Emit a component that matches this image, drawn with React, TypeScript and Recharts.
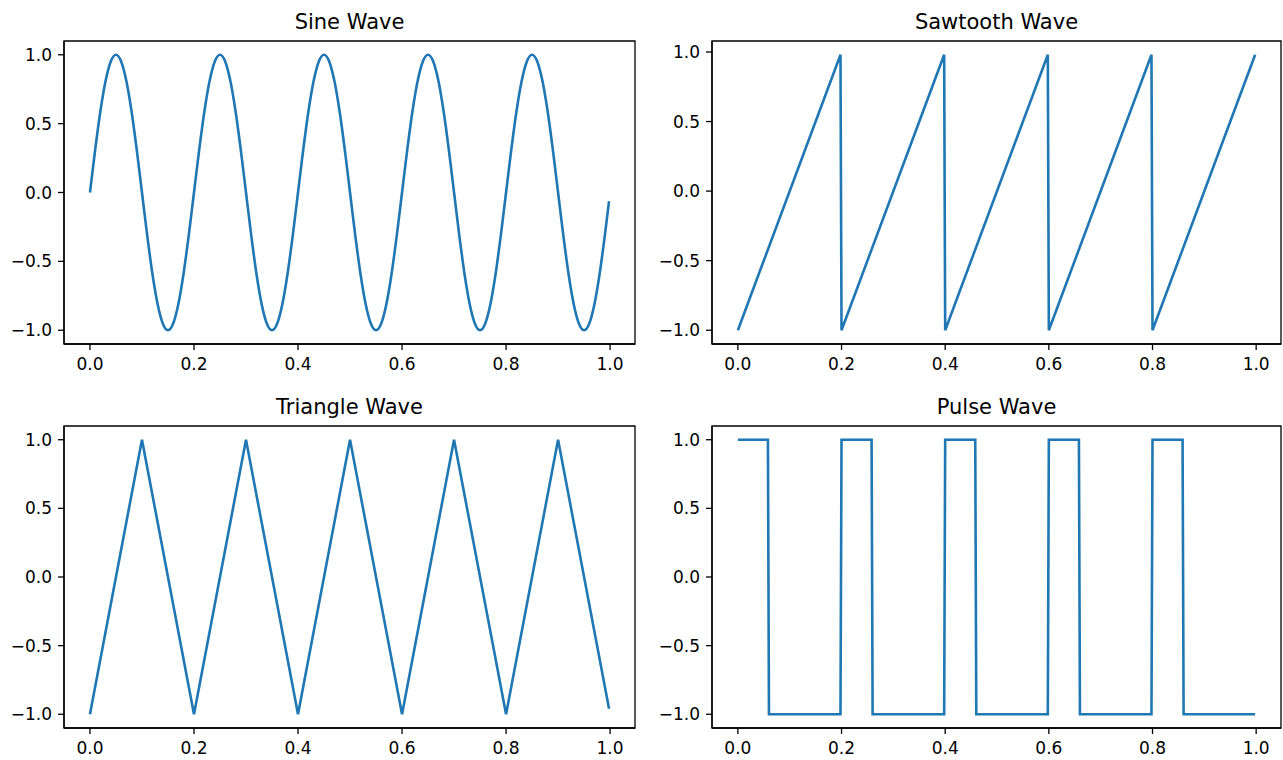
import React from "react";
import { LineChart, Line, XAxis, YAxis, ReferenceArea } from "recharts";

// Sample times and values for each waveform (5 cycles over one second)
const sineT = [
  0, 0.01, 0.02, 0.03, 0.04, 0.05, 0.06, 0.07, 0.08, 0.09,
  0.1, 0.11, 0.12, 0.13, 0.14, 0.15, 0.16, 0.17, 0.18, 0.19,
  0.2, 0.21, 0.22, 0.23, 0.24, 0.25, 0.26, 0.27, 0.28, 0.29,
  0.3, 0.31, 0.32, 0.33, 0.34, 0.35, 0.36, 0.37, 0.38, 0.39,
  0.4, 0.41, 0.42, 0.43, 0.44, 0.45, 0.46, 0.47, 0.48, 0.49,
  0.5, 0.51, 0.52, 0.53, 0.54, 0.55, 0.56, 0.57, 0.58, 0.59,
  0.6, 0.61, 0.62, 0.63, 0.64, 0.65, 0.66, 0.67, 0.68, 0.69,
  0.7, 0.71, 0.72, 0.73, 0.74, 0.75, 0.76, 0.77, 0.78, 0.79,
  0.8, 0.81, 0.82, 0.83, 0.84, 0.85, 0.86, 0.87, 0.88, 0.89,
  0.9, 0.91, 0.92, 0.93, 0.94, 0.95, 0.96, 0.97, 0.98, 0.99,
  0.998,
];
const sineV = [
  0, 0.309, 0.588, 0.809, 0.951, 1, 0.951, 0.809, 0.588, 0.309,
  0, -0.309, -0.588, -0.809, -0.951, -1, -0.951, -0.809, -0.588, -0.309,
  0, 0.309, 0.588, 0.809, 0.951, 1, 0.951, 0.809, 0.588, 0.309,
  0, -0.309, -0.588, -0.809, -0.951, -1, -0.951, -0.809, -0.588, -0.309,
  0, 0.309, 0.588, 0.809, 0.951, 1, 0.951, 0.809, 0.588, 0.309,
  0, -0.309, -0.588, -0.809, -0.951, -1, -0.951, -0.809, -0.588, -0.309,
  0, 0.309, 0.588, 0.809, 0.951, 1, 0.951, 0.809, 0.588, 0.309,
  0, -0.309, -0.588, -0.809, -0.951, -1, -0.951, -0.809, -0.588, -0.309,
  0, 0.309, 0.588, 0.809, 0.951, 1, 0.951, 0.809, 0.588, 0.309,
  0, -0.309, -0.588, -0.809, -0.951, -1, -0.951, -0.809, -0.588, -0.309,
  -0.063,
];

const sawT = [0, 0.198, 0.2, 0.398, 0.4, 0.598, 0.6, 0.798, 0.8, 0.998];
const sawV = [-1, 0.98, -1, 0.98, -1, 0.98, -1, 0.98, -1, 0.98];

const triT = [0, 0.1, 0.2, 0.3, 0.4, 0.5, 0.6, 0.7, 0.8, 0.9, 0.998];
const triV = [-1, 1, -1, 1, -1, 1, -1, 1, -1, 1, -0.96];

const pulseT = [
  0, 0.058, 0.06, 0.198, 0.2, 0.258, 0.26, 0.398, 0.4, 0.458,
  0.46, 0.598, 0.6, 0.658, 0.66, 0.798, 0.8, 0.858, 0.86, 0.998,
];
const pulseV = [
  1, 1, -1, -1, 1, 1, -1, -1, 1, 1,
  -1, -1, 1, 1, -1, -1, 1, 1, -1, -1,
];

const xTicks = [0, 0.2, 0.4, 0.6, 0.8, 1.0];
const yTicks = [-1, -0.5, 0, 0.5, 1];

const X_DOMAIN: [number, number] = [-0.0499, 1.0479];
const FULL_Y: [number, number] = [-1.1, 1.1];
const SAW_Y: [number, number] = [-1.099, 1.079];

const FONT = "'DejaVu Sans', sans-serif";
const LINE_COLOR = "#1f77b4";
const SPINE = "#000";

const fmt = (v: number) => (v < 0 ? "\u2212" + Math.abs(v).toFixed(1) : v.toFixed(1));

type Box = {
  left: number;
  top: number;
  plotW: number;
  plotH: number;
  xAxisH: number;
  marginRight: number;
};

function WavePanel({
  t,
  v,
  yDomain,
  box,
  curve,
}: {
  t: number[];
  v: number[];
  yDomain: [number, number];
  box: Box;
  curve: "monotone" | "linear";
}) {
  const data = t.map((x, i) => ({ t: x, v: v[i] }));
  const yAxisW = 64;
  const marginTop = 4;
  const width = yAxisW + box.plotW + box.marginRight;
  const height = marginTop + box.plotH + box.xAxisH;
  const tickStyle = { fill: "#000", fontSize: 17, fontFamily: FONT };
  return (
    <div style={{ position: "absolute", left: box.left, top: box.top - marginTop }}>
      <LineChart
        width={width}
        height={height}
        data={data}
        margin={{ top: marginTop, right: box.marginRight, bottom: 0, left: 0 }}
      >
        <XAxis
          dataKey="t"
          type="number"
          domain={X_DOMAIN}
          allowDataOverflow
          ticks={xTicks}
          interval={0}
          tickFormatter={fmt}
          height={box.xAxisH}
          tickSize={6}
          tickMargin={8}
          tick={tickStyle}
          axisLine={{ stroke: SPINE, strokeWidth: 1.3 }}
          tickLine={{ stroke: SPINE, strokeWidth: 1.3 }}
        />
        <YAxis
          type="number"
          domain={yDomain}
          allowDataOverflow
          ticks={yTicks}
          interval={0}
          tickFormatter={fmt}
          width={yAxisW}
          tickSize={6}
          tickMargin={6}
          tick={tickStyle}
          axisLine={{ stroke: SPINE, strokeWidth: 1.3 }}
          tickLine={{ stroke: SPINE, strokeWidth: 1.3 }}
        />
        <ReferenceArea
          x1={X_DOMAIN[0]}
          x2={X_DOMAIN[1]}
          y1={yDomain[0]}
          y2={yDomain[1]}
          fill="none"
          fillOpacity={0}
          stroke={SPINE}
          strokeWidth={1.3}
          ifOverflow="visible"
        />
        <Line
          type={curve}
          dataKey="v"
          stroke={LINE_COLOR}
          strokeWidth={2.6}
          dot={false}
          activeDot={false}
          isAnimationActive={false}
        />
      </LineChart>
    </div>
  );
}

const topRow = { top: 41, plotH: 303, xAxisH: 40 };
const bottomRow = { top: 426, plotH: 302, xAxisH: 30 };
const leftCol = { left: 0, plotW: 571, marginRight: 4 };
const rightCol = { left: 648, plotW: 569, marginRight: 2 };

const titles = [
  { text: "Sine Wave", x: 64 + 571 / 2, y: 28.5 },
  { text: "Sawtooth Wave", x: 712 + 569 / 2, y: 28.5 },
  { text: "Triangle Wave", x: 64 + 571 / 2, y: 413.5 },
  { text: "Pulse Wave", x: 712 + 569 / 2, y: 413.5 },
];

export default function App() {
  return (
    <div
      style={{
        position: "absolute",
        left: 0,
        top: 0,
        width: 1283,
        height: 760,
        overflow: "hidden",
        background: "#fff",
        fontFamily: FONT,
      }}
    >
      <WavePanel t={sineT} v={sineV} yDomain={FULL_Y} curve="monotone" box={{ ...leftCol, ...topRow }} />
      <WavePanel t={sawT} v={sawV} yDomain={SAW_Y} curve="linear" box={{ ...rightCol, ...topRow }} />
      <WavePanel t={triT} v={triV} yDomain={FULL_Y} curve="linear" box={{ ...leftCol, ...bottomRow }} />
      <WavePanel t={pulseT} v={pulseV} yDomain={FULL_Y} curve="linear" box={{ ...rightCol, ...bottomRow }} />
      <svg
        width={1283}
        height={760}
        style={{ position: "absolute", left: 0, top: 0, pointerEvents: "none" }}
      >
        {titles.map((tt) => (
          <text
            key={tt.text}
            x={tt.x}
            y={tt.y}
            textAnchor="middle"
            fontFamily={FONT}
            fontSize={21}
            fill="#000"
          >
            {tt.text}
          </text>
        ))}
      </svg>
    </div>
  );
}
